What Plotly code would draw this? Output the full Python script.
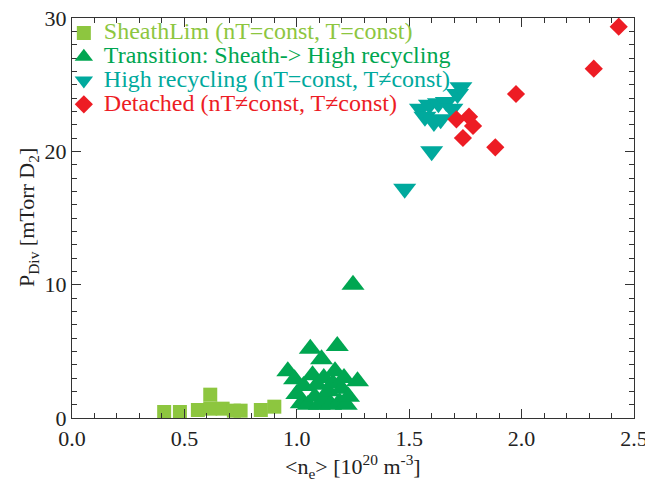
import plotly.graph_objects as go

# SheathLim
sheath_x = [0.41, 0.48, 0.56, 0.615, 0.615, 0.67, 0.72, 0.75, 0.84, 0.90]
sheath_y = [0.45, 0.45, 0.6, 1.75, 0.7, 0.7, 0.55, 0.55, 0.6, 0.85]

# Transition
trans_x = [0.96, 0.99, 1.00, 1.02, 1.03, 1.05, 1.06, 1.07, 1.08, 1.09, 1.10, 1.11, 1.12,
           1.13, 1.14, 1.15, 1.16, 1.17, 1.18, 1.19, 1.20, 1.21, 1.22, 1.23, 1.25, 1.27]
trans_y = [3.5, 2.9, 1.8, 1.1, 2.4, 1.0, 5.2, 3.2, 1.6, 2.5, 1.0, 4.4, 3.0,
           1.5, 2.0, 1.0, 2.6, 3.5, 5.4, 1.2, 2.2, 3.0, 1.0, 1.6, 10.0, 2.75]

# High recycling
hr_x = [1.48, 1.60, 1.55, 1.57, 1.61, 1.64, 1.59, 1.63, 1.665, 1.69, 1.715, 1.73]
hr_y = [17.2, 20.0, 23.2, 22.6, 22.2, 22.4, 23.5, 23.6, 23.7, 23.2, 24.3, 24.8]

# Detached
det_x = [1.71, 1.766, 1.784, 1.739, 1.883, 1.975, 2.321, 2.432]
det_y = [22.4, 22.6, 21.9, 21.0, 20.3, 24.3, 26.2, 29.35]

names = ["SheathLim (nT=const, T=const)",
         "Transition: Sheath-> High recycling",
         "High recycling (nT=const, T≠const)",
         "Detached (nT≠const, T≠const)"]
colors = ["#8DC63F", "#00A651", "#00A99D", "#ED1C24"]

x_title = "&lt;n<sub>e</sub>&gt; [10<sup>20</sup> m<sup>-3</sup>]"
y_title = "P<sub>Div</sub> [mTorr D<sub>2</sub>]"

FONT = "Liberation Serif"

fig = go.Figure()
series = [(sheath_x, sheath_y, "square", 14),
          (trans_x, trans_y, "triangle-up", 20),
          (hr_x, hr_y, "triangle-down", 20),
          (det_x, det_y, "diamond", 14)]
for (xs, ys, sym, sz), nm, c in zip(series, names, colors):
    fig.add_trace(go.Scatter(
        x=xs, y=ys, mode="markers",
        name=f"<span style='color:{c};font-size:24px'>{nm}</span>",
        marker=dict(symbol=sym, size=sz, color=c, line=dict(width=0)),
        cliponaxis=True,
    ))

axis_common = dict(
    showline=True, linecolor="#333333", linewidth=1.2,
    ticks="inside", ticklen=9, tickcolor="#333333", tickwidth=1.2,
    mirror="allticks", showgrid=False, zeroline=False, automargin=False,
    ticklabeloverflow="allow",
    tickfont=dict(family=FONT, size=22, color="#222222"),
)

fig.update_xaxes(range=[0, 2.5], dtick=0.5, tickformat=".1f",
                 minor=dict(dtick=0.1, ticks="inside", ticklen=5, tickcolor="#333333"),
                 **axis_common)
fig.update_yaxes(range=[0, 30], dtick=10,
                 minor=dict(dtick=1, ticks="inside", ticklen=5, tickcolor="#333333"),
                 **axis_common)

fig.add_annotation(text=x_title, xref="paper", yref="paper", x=0.5, y=0,
                   xanchor="center", yanchor="middle", yshift=-48, showarrow=False,
                   font=dict(family=FONT, size=22, color="#222222"))
fig.add_annotation(text=y_title, xref="paper", yref="paper", x=0, y=0.5,
                   xanchor="center", yanchor="middle", xshift=-44, textangle=-90,
                   showarrow=False, font=dict(family=FONT, size=22, color="#222222"))

# page body adds an 8px margin; compensate so plot area lands at 72..634 x 16..418
fig.update_layout(
    width=645, height=476,
    margin=dict(l=64, r=19, t=8, b=66),
    plot_bgcolor="white", paper_bgcolor="white",
    font=dict(family=FONT),
    showlegend=True,
    legend=dict(x=-0.0145, y=1.005, xanchor="left", yanchor="top",
                bgcolor="rgba(0,0,0,0)", font=dict(family=FONT, size=16),
                tracegroupgap=0, itemwidth=30),
)

fig.write_html("out.html")
